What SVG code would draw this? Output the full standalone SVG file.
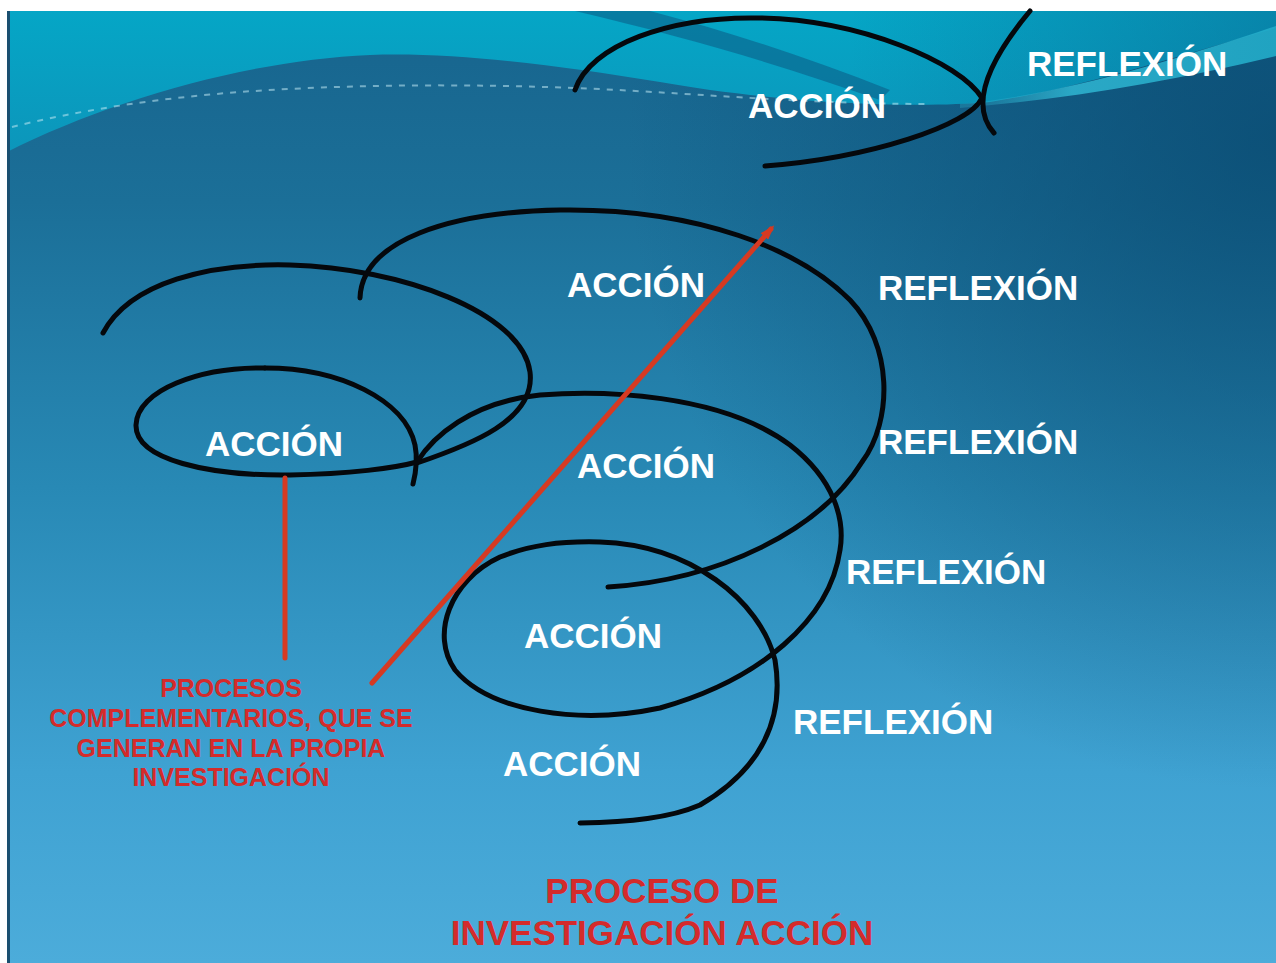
<svg xmlns="http://www.w3.org/2000/svg" width="1276" height="963" viewBox="0 0 1276 963">
<defs>
<linearGradient id="bg" x1="0" y1="0" x2="0" y2="1">
<stop offset="0" stop-color="#17648d"/>
<stop offset="0.2" stop-color="#1b6f98"/>
<stop offset="0.5" stop-color="#2889b5"/>
<stop offset="0.8" stop-color="#3fa2d2"/>
<stop offset="1" stop-color="#4cacda"/>
</linearGradient>
<linearGradient id="teal" x1="0" y1="0" x2="0" y2="1">
<stop offset="0" stop-color="#05a6c6"/>
<stop offset="1" stop-color="#0c96bb"/>
</linearGradient>
<linearGradient id="tealdim" x1="850" y1="0" x2="1276" y2="0" gradientUnits="userSpaceOnUse">
<stop offset="0" stop-color="#0a5f8a" stop-opacity="0"/>
<stop offset="1" stop-color="#0a5f8a" stop-opacity="0.45"/>
</linearGradient>
<radialGradient id="dark" cx="1276" cy="140" r="650" gradientUnits="userSpaceOnUse">
<stop offset="0" stop-color="#08486f" stop-opacity="0.75"/>
<stop offset="1" stop-color="#08486f" stop-opacity="0"/>
</radialGradient>
<linearGradient id="swoosh" x1="985" y1="0" x2="1276" y2="0" gradientUnits="userSpaceOnUse">
<stop offset="0" stop-color="#2fb6d2" stop-opacity="0.3"/>
<stop offset="0.3" stop-color="#2fb6d2" stop-opacity="0.85"/>
<stop offset="1" stop-color="#22acc9" stop-opacity="0.9"/>
</linearGradient>
<marker id="ah" markerWidth="15" markerHeight="10" refX="10" refY="5" orient="auto" markerUnits="userSpaceOnUse">
<path d="M0,0 L15,5 L0,10 Z" fill="#d63a22"/>
</marker>
<style>
.crv{fill:none;stroke:#05080c;stroke-width:5;stroke-linecap:round;stroke-linejoin:round}
.red{fill:none;stroke:#d63a22;stroke-width:5;stroke-linecap:round}
.w{font-family:"Liberation Sans",Arial,sans-serif;font-weight:bold;font-size:35px;fill:#ffffff}
.r{font-family:"Liberation Sans",Arial,sans-serif;font-weight:bold;fill:#d42b2b;text-anchor:middle}
</style>
</defs>
<rect width="1276" height="963" fill="#ffffff"/>
<g id="background">
<rect x="7" y="11" width="1269" height="952" fill="url(#bg)"/>
<rect x="7" y="11" width="1269" height="952" fill="url(#dark)"/>
<path d="M7,11 H1276 V28 C1180,55 1080,88 990,102 C900,110 760,100 660,82 C560,66 460,52 370,55 C250,60 110,100 7,152 Z" fill="url(#teal)"/>
<path d="M850,11 H1276 V28 C1180,55 1080,88 990,102 C940,106 890,106 850,104 Z" fill="url(#tealdim)"/>
<path d="M575,11 L650,11 C730,32 810,58 890,90 L880,100 C790,68 690,38 575,11 Z" fill="#0b5a84" opacity="0.55"/>
<path d="M960,104 C1060,95 1170,62 1276,26 V56 C1170,82 1060,100 960,108 Z" fill="url(#swoosh)"/>
<path d="M12,127 C80,110 160,98 240,92 C350,84 470,84 575,88 C680,92 800,104 930,104" fill="none" stroke="#bfe8f2" stroke-width="2" stroke-dasharray="6 7" opacity="0.55"/>
<rect x="7" y="11" width="3" height="952" fill="#1a4f70"/>
</g>
<g id="connectors">
<path id="loop-top" class="crv" d="M575,90 C590,45 670,16 760,18 C860,20 960,62 982,98 C970,125 870,158 765,166"/>
<path id="stroke-top-right" class="crv" d="M1030,11 Q960,95 994,133"/>
<path id="loop-big" class="crv" d="M360,298 C362,240 450,212 560,210 C700,208 800,250 850,300 C893,345 893,420 862,462 C820,530 720,580 608,587"/>
<path id="loop-left" class="crv" d="M103,333 C130,282 210,263 290,265 C400,268 522,312 530,372 C536,420 470,445 417,463"/>
<path id="loop-small-top" class="crv" d="M265,368 C340,368 405,400 415,445 C418,460 416,472 413,484"/>
<path id="loop-spiral" class="crv" d="M265,368 C200,367 137,390 136,425 C135,460 210,476 290,475 C350,474 395,468 417,462 C432,438 470,402 540,395 C600,390 720,393 790,445 C835,480 845,520 840,550 C830,620 760,680 660,708 C580,725 490,712 455,670 C430,635 450,580 500,557 C530,545 560,541 600,542 C690,545 760,600 775,660 C785,720 760,770 700,805 C670,818 630,822 580,823"/>
<line id="red-vertical" class="red" x1="285" y1="478" x2="285" y2="658" stroke-width="6"/>
<line id="red-arrow" class="red" x1="372" y1="683" x2="771" y2="229" marker-end="url(#ah)" stroke-linecap="butt"/>
</g>
<g id="label-accion-1"><text class="w" x="748" y="118">ACCIÓN</text></g>
<g id="label-reflexion-1"><text class="w" x="1027" y="76">REFLEXIÓN</text></g>
<g id="label-accion-2"><text class="w" x="567" y="297">ACCIÓN</text></g>
<g id="label-reflexion-2"><text class="w" x="878" y="300">REFLEXIÓN</text></g>
<g id="label-accion-left"><text class="w" x="205" y="456">ACCIÓN</text></g>
<g id="label-accion-3"><text class="w" x="577" y="478">ACCIÓN</text></g>
<g id="label-reflexion-3"><text class="w" x="878" y="454">REFLEXIÓN</text></g>
<g id="label-reflexion-4"><text class="w" x="846" y="584">REFLEXIÓN</text></g>
<g id="label-accion-4"><text class="w" x="524" y="648">ACCIÓN</text></g>
<g id="label-reflexion-5"><text class="w" x="793" y="734">REFLEXIÓN</text></g>
<g id="label-accion-5"><text class="w" x="503" y="776">ACCIÓN</text></g>
<g id="note-procesos">
<text class="r" font-size="25" x="231" y="697">PROCESOS</text>
<text class="r" font-size="25" x="231" y="727">COMPLEMENTARIOS, QUE SE</text>
<text class="r" font-size="25" x="231" y="757">GENERAN EN LA PROPIA</text>
<text class="r" font-size="25" x="231" y="786">INVESTIGACIÓN</text>
</g>
<g id="title">
<text class="r" font-size="35" x="662" y="903">PROCESO DE</text>
<text class="r" font-size="35" x="662" y="945">INVESTIGACIÓN ACCIÓN</text>
</g>
</svg>
